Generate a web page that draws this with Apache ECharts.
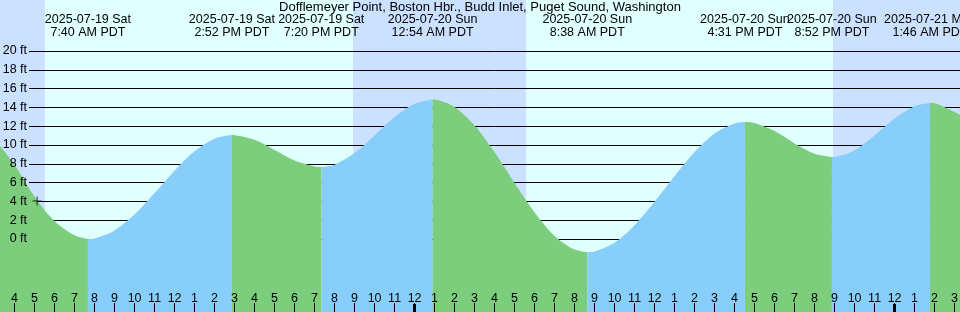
<!DOCTYPE html>
<html>
<head>
<meta charset="utf-8">
<script src="https://cdn.jsdelivr.net/npm/echarts@6/dist/echarts.min.js"></script>
<style>
html,body{margin:0;padding:0;background:#e0ffff;}
#chart{width:960px;height:312px;}
</style>
</head>
<body>
<div id="chart"></div>
<script>
// ---- data (hours since 2025-07-19 00:00 PDT) ----
const titleText = 'Dofflemeyer Point, Boston Hbr., Budd Inlet, Puget Sound, Washington';
const hours = [3.27,4,5,6,7,7.667,8,9,10,11,12,13,14,14.867,15,16,17,18,19,19.333,20,21,22,23,24,24.9,25,26,27,28,29,30,31,32,32.633,33,34,35,36,37,38,39,40,40.517,41,42,43,44,44.867,45,46,47,48,49,49.767,50,51,51.27];
const heights = [9.9,7.9,4.5,1.9,0.4,0.0,0.06,0.91,2.62,4.89,7.27,9.33,10.67,11.06,11.05,10.55,9.48,8.35,7.71,7.66,7.91,9.14,11.02,12.97,14.39,14.85,14.84,14.05,12.07,9.22,5.95,2.82,0.33,-1.13,-1.4,-1.33,-0.4,1.46,3.95,6.69,9.25,11.23,12.30,12.45,12.34,11.48,10.17,9.07,8.72,8.73,9.45,11.02,12.82,14.13,14.47,14.44,13.5,13.2];
const eventTimes = [7.667,14.867,19.333,24.9,32.633,40.517,44.867,49.767];
const eventDates = ['2025-07-19 Sat','2025-07-19 Sat','2025-07-19 Sat','2025-07-20 Sun','2025-07-20 Sun','2025-07-20 Sun','2025-07-20 Sun','2025-07-21 Mon'];
const eventClock = ['7:40 AM PDT','2:52 PM PDT','7:20 PM PDT','12:54 AM PDT','8:38 AM PDT','4:31 PM PDT','8:52 PM PDT','1:46 AM PDT'];
const nightBands = [[3.27,5.52],[20.92,29.57],[44.92,51.27]];
const hourTicks = [];
for (let h = 4; h <= 51; h++) hourTicks.push(h);
const midnightTicks = [24,48];
const ftTicks = [0,2,4,6,8,10,12,14,16,18,20];
const marker = [[5.125,4.04]];

const xMin = 3.27, xMax = 51.27;
const yMin = -7.766, yMax = 25.426;
const GREEN = '#7ccd7c', BLUE = '#87cefa', NIGHT = '#cae1ff';
const FONT = 'Liberation Sans';

// split curve at turning points into falling / rising segments
const segs = [];
let cur = [];
hours.forEach((h, i) => {
  cur.push([h, heights[i]]);
  if (eventTimes.includes(h)) { segs.push(cur); cur = [[h, heights[i]]]; }
});
segs.push(cur);

const series = segs.map((seg, k) => ({
  type: 'line', xAxisIndex: 0, yAxisIndex: 0, data: seg,
  showSymbol: false, smooth: 0.3, z: 2,
  lineStyle: { width: 0 },
  areaStyle: { color: k % 2 === 0 ? GREEN : BLUE, opacity: 1, origin: 'start' },
  silent: true
}));
series[0].markArea = {
  silent: true, z: 1,
  itemStyle: { color: NIGHT },
  data: nightBands.map(b => [{ xAxis: b[0] }, { xAxis: b[1] }])
};
series.push({
  type: 'scatter', xAxisIndex: 0, yAxisIndex: 0, data: marker, z: 5,
  symbol: 'path://M0,5L10,5M5,0L5,10', symbolSize: 9,
  itemStyle: { color: 'none', borderColor: '#000', borderWidth: 1 }, silent: true
});

const txt = { color: '#000', fontFamily: FONT, fontSize: 12.5 };
const noLine = { show: false, onZero: false };

const option = {
  animation: false,
  backgroundColor: '#e0ffff',
  title: {
    text: titleText, left: 'center', top: 0, padding: [1, 0, 0, 0],
    textStyle: { color: '#000', fontFamily: FONT, fontSize: 13, fontWeight: 'normal' }
  },
  grid: [
    { left: 0, right: 0, top: 0, bottom: 0, containLabel: false, outerBoundsMode: 'none' },
    { left: 29, right: 0, top: 0, bottom: 0, containLabel: false, outerBoundsMode: 'none' }
  ],
  xAxis: [
    { gridIndex: 0, type: 'value', min: xMin, max: xMax, position: 'bottom', z: 3,
      axisLine: noLine, splitLine: { show: false },
      axisTick: { show: true, inside: true, length: 9, customValues: hourTicks, lineStyle: { color: '#000', width: 1 } },
      axisLabel: Object.assign({ inside: true, margin: 7, customValues: hourTicks,
        formatter: v => String((Math.round(v) % 12) || 12) }, txt) },
    { gridIndex: 0, type: 'value', min: xMin, max: xMax, position: 'top', z: 3,
      axisLine: noLine, splitLine: { show: false }, axisTick: { show: false, customValues: eventTimes },
      axisLabel: Object.assign({ inside: true, margin: 13, customValues: eventTimes, verticalAlign: 'top',
        lineHeight: 13, align: 'center',
        formatter: v => { const i = eventTimes.findIndex(t => Math.abs(t - v) < 1e-6); return i < 0 ? '' : eventDates[i] + '\n' + eventClock[i]; } }, txt) },
    { gridIndex: 0, type: 'value', min: xMin, max: xMax, position: 'bottom', z: 3,
      axisLine: noLine, splitLine: { show: false }, axisLabel: { show: false },
      axisTick: { show: true, inside: true, length: 8, customValues: midnightTicks, lineStyle: { color: '#000', width: 3 } } },
    { gridIndex: 1, type: 'value', min: 0, max: 1, show: false }
  ],
  yAxis: [
    { gridIndex: 0, type: 'value', min: yMin, max: yMax, z: 3,
      axisLine: noLine, splitLine: { show: false }, axisTick: { show: false, customValues: ftTicks },
      axisLabel: Object.assign({ inside: true, align: 'right', margin: 27, customValues: ftTicks,
        formatter: v => v + ' ft' }, txt) },
    { gridIndex: 1, type: 'value', min: yMin, max: yMax, z: 1.5,
      axisLine: noLine, axisLabel: { show: false }, axisTick: { show: false, customValues: ftTicks },
      splitLine: { show: true, lineStyle: { color: '#000', width: 1 } } }
  ],
  series: series
};

const chart = echarts.init(document.getElementById('chart'), null, { renderer: 'canvas' });
chart.setOption(option);
</script>
</body>
</html>
